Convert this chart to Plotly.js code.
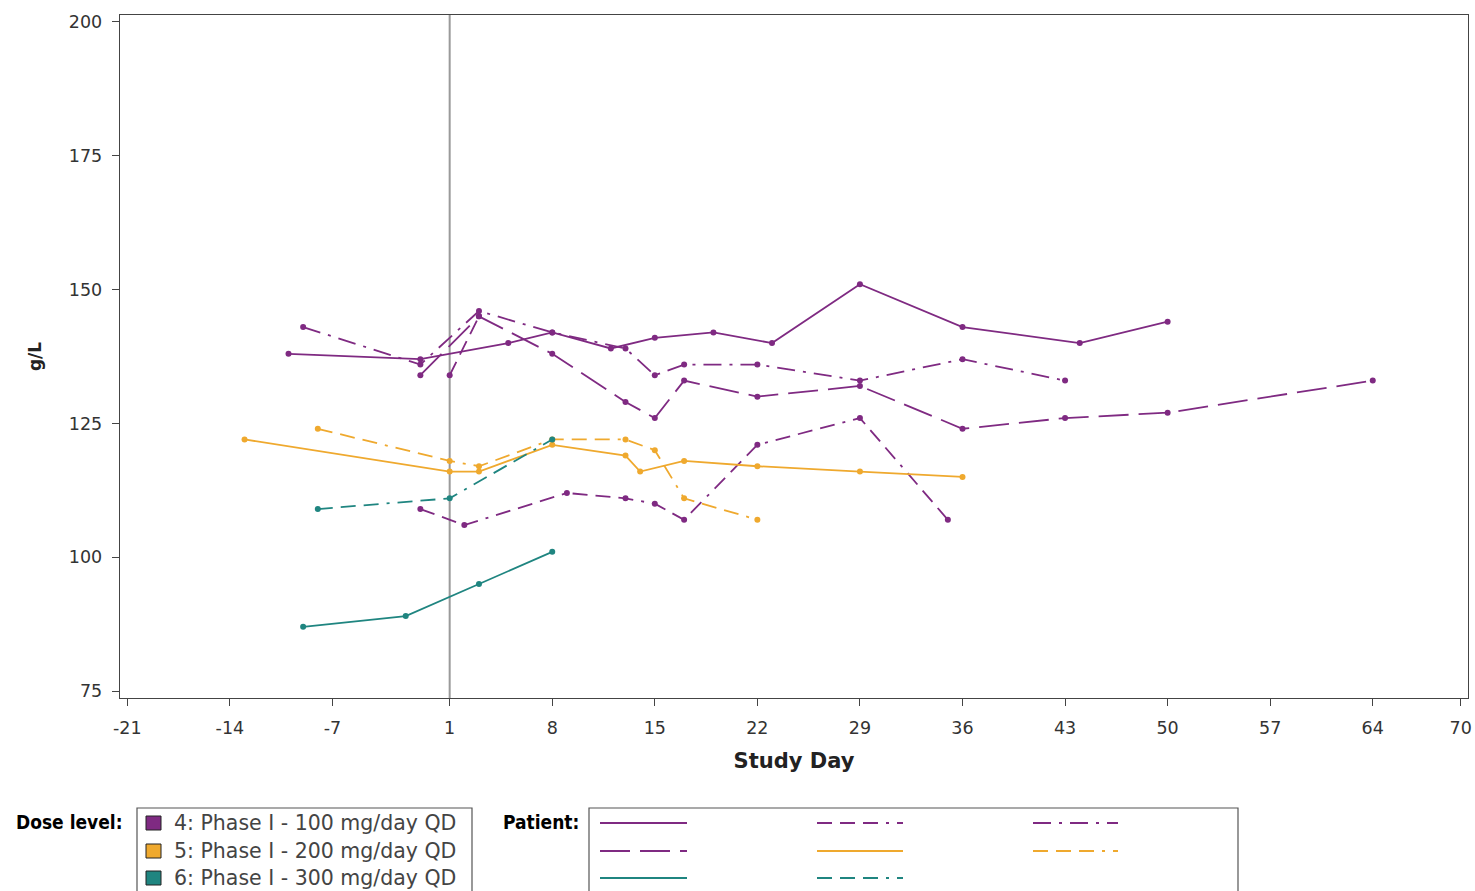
<!DOCTYPE html>
<html>
<head>
<meta charset="utf-8">
<script src="https://cdn.plot.ly/plotly-3.0.1.min.js"></script>
<style>html,body{margin:0;padding:0;background:#fff;}#chart{width:1475px;height:891px;}</style>
</head>
<body>
<div id="chart"></div>
<script>
// ---- data ----
const tickDays = [-21, -14, -7, 1, 8, 15, 22, 29, 36, 43, 50, 57, 64, 70];
const tickG = [75, 100, 125, 150, 175, 200];

// Dose level 4 (purple)
const p1Day = [-10, -1, 5, 8, 12, 15, 19, 23, 29, 36, 44, 50];
const p1Val = [138, 137, 140, 142, 139, 141, 142, 140, 151, 143, 140, 144];
const p2Day = [-9, -1, 3, 8, 13, 15, 17, 22, 29, 36, 43];
const p2Val = [143, 136, 146, 142, 139, 134, 136, 136, 133, 137, 133];
const p3Day = [-1, 3, 8, 13, 15, 17, 22, 29, 36, 43, 50, 64];
const p3Val = [134, 145, 138, 129, 126, 133, 130, 132, 124, 126, 127, 133];
const p4Day = [-1, 2, 9, 13, 15, 17, 22, 29, 35];
const p4Val = [109, 106, 112, 111, 110, 107, 121, 126, 107];
const p5Day = [1, 3];
const p5Val = [134, 145];
// Dose level 5 (orange)
const o1Day = [-13, 1, 3, 8, 13, 14, 17, 22, 29, 36];
const o1Val = [122, 116, 116, 121, 119, 116, 118, 117, 116, 115];
const o2Day = [-8, 1, 3, 8, 13, 15, 17, 22];
const o2Val = [124, 118, 117, 122, 122, 120, 111, 107];
// Dose level 6 (teal)
const t1Day = [-9, -2, 3, 8];
const t1Val = [87, 89, 95, 101];
const t2Day = [-8, 1, 8];
const t2Val = [109, 111, 122];

const doseLabels = ['4: Phase I - 100 mg/day QD', '5: Phase I - 200 mg/day QD', '6: Phase I - 300 mg/day QD'];

// ---- styles ----
const PURPLE = '#7f2a82', ORANGE = '#efa92e', TEAL = '#1f8580';
const DASH3DOT = '15px,8px,15px,8px,15px,8px,3px,8px';
const DASHDOT = '18px,8px,3px,8px';
const LONGDASH = '30px,10px';

function tr(x, y, color, dash) {
  return {
    x: x, y: y, type: 'scatter', mode: 'lines+markers',
    line: {color: color, width: 1.8, dash: dash},
    marker: {color: color, size: 6, symbol: 'circle'},
    showlegend: false, hoverinfo: 'x+y'
  };
}

const data = [
  tr(p1Day, p1Val, PURPLE, 'solid'),
  tr(p2Day, p2Val, PURPLE, DASHDOT),
  tr(p3Day, p3Val, PURPLE, LONGDASH),
  tr(p4Day, p4Val, PURPLE, DASH3DOT),
  tr(p5Day, p5Val, PURPLE, DASH3DOT),
  tr(o1Day, o1Val, ORANGE, 'solid'),
  tr(o2Day, o2Val, ORANGE, DASH3DOT),
  tr(t1Day, t1Val, TEAL, 'solid'),
  tr(t2Day, t2Val, TEAL, DASH3DOT)
];

// pixel -> paper helpers for legend decoration
const L = 120, R = 1468, T = 15, B = 698;
const px = p => (p - L) / (R - L);
const py = p => (B - p) / (B - T);

const shapes = [
  {type: 'line', xref: 'x', yref: 'paper', x0: 1, x1: 1, y0: 0, y1: 1,
   line: {color: '#9a9a9a', width: 2}, layer: 'below'},
  {type: 'rect', xref: 'paper', yref: 'paper', x0: px(137), x1: px(472), y0: py(808), y1: py(905),
   line: {color: '#555', width: 1.2}, fillcolor: 'rgba(0,0,0,0)'},
  {type: 'rect', xref: 'paper', yref: 'paper', x0: px(589), x1: px(1238), y0: py(808), y1: py(905),
   line: {color: '#555', width: 1.2}, fillcolor: 'rgba(0,0,0,0)'}
];
const headFont = {family: 'DejaVu Sans Condensed, DejaVu Sans, sans-serif', size: 19, color: '#000', weight: 'bold'};
const annotations = [
  {text: 'Dose level:', xref: 'paper', yref: 'paper', x: px(14), y: py(822), xanchor: 'left', yanchor: 'middle',
   showarrow: false, font: headFont},
  {text: 'Patient:', xref: 'paper', yref: 'paper', x: px(501), y: py(822), xanchor: 'left', yanchor: 'middle',
   showarrow: false, font: headFont}
];
const doseColors = [PURPLE, ORANGE, TEAL];
const rowY = [823, 851, 878];
doseLabels.forEach((lab, i) => {
  shapes.push({type: 'rect', xref: 'paper', yref: 'paper', x0: px(146), x1: px(161), y0: py(rowY[i] + 7), y1: py(rowY[i] - 7),
    line: {color: '#222', width: 1}, fillcolor: doseColors[i]});
  annotations.push({text: lab, xref: 'paper', yref: 'paper', x: px(172), y: py(rowY[i]), xanchor: 'left', yanchor: 'middle',
    showarrow: false, font: {family: 'DejaVu Sans, sans-serif', size: 20.5, color: '#444'}});
});
const sampleCols = [[600, 687], [817, 903], [1033, 1118]];
const samples = [
  [0, 0, PURPLE, 'solid'], [0, 1, PURPLE, DASH3DOT], [0, 2, PURPLE, DASHDOT],
  [1, 0, PURPLE, LONGDASH], [1, 1, ORANGE, 'solid'], [1, 2, ORANGE, DASH3DOT],
  [2, 0, TEAL, 'solid'], [2, 1, TEAL, DASH3DOT]
];
samples.forEach(s => {
  const c = sampleCols[s[1]];
  shapes.push({type: 'line', xref: 'paper', yref: 'paper', x0: px(c[0]), x1: px(c[1]), y0: py(rowY[s[0]]), y1: py(rowY[s[0]]),
    line: {color: s[2], width: 2.2, dash: s[3]}});
});

const axisFont = {family: 'DejaVu Sans, sans-serif', size: 17.5, color: '#333'};
const layout = {
  width: 1475, height: 891,
  margin: {l: L, r: 1475 - R, t: T, b: 891 - B},
  paper_bgcolor: '#fff', plot_bgcolor: '#fff',
  showlegend: false,
  xaxis: {
    range: [-21.5, 70.5], tickmode: 'array', tickvals: tickDays, ticktext: tickDays.map(String),
    showgrid: false, zeroline: false, showline: true, linecolor: '#444', linewidth: 1.3, mirror: true,
    ticks: 'outside', ticklen: 7, tickcolor: '#444', tickfont: axisFont, ticklabelstandoff: 7,
    title: {text: '<b>Study Day</b>', font: {family: 'DejaVu Sans, sans-serif', size: 21, color: '#222'}, standoff: 16}
  },
  yaxis: {
    range: [73.7, 201.3], tickmode: 'array', tickvals: tickG, ticktext: tickG.map(String),
    showgrid: false, zeroline: false, showline: true, linecolor: '#444', linewidth: 1.3, mirror: true,
    ticks: 'outside', ticklen: 7, tickcolor: '#444', tickfont: axisFont, ticklabelstandoff: 6,
    title: {text: '<b>g/L</b>', font: {family: 'DejaVu Sans, sans-serif', size: 17, color: '#222'}, standoff: 22}
  },
  shapes: shapes,
  annotations: annotations
};

Plotly.newPlot('chart', data, layout, {displayModeBar: false, staticPlot: true});
</script>
</body>
</html>
